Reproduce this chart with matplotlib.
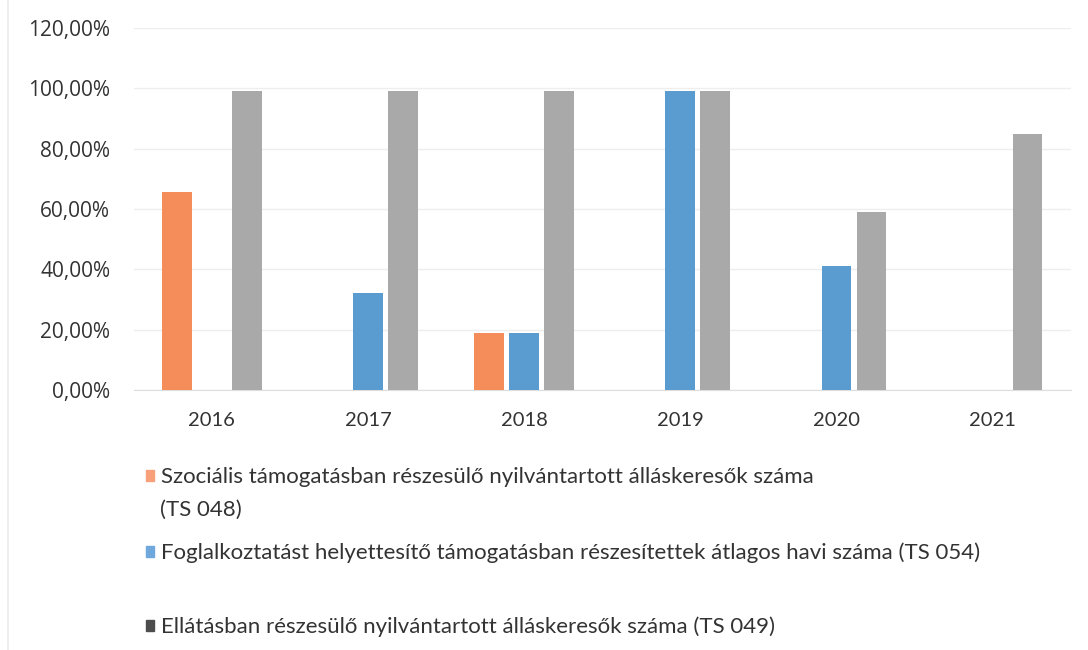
import numpy as np
import matplotlib
matplotlib.use("Agg")
import matplotlib.pyplot as plt
from matplotlib.patches import Patch
from matplotlib.lines import Line2D
from matplotlib.ticker import FuncFormatter

# Data (shares, 1.0 = 100%)
years = ["2016", "2017", "2018", "2019", "2020", "2021"]
ts048 = [0.655, 0.0, 0.19, 0.0, 0.0, 0.0]
ts054 = [0.0, 0.32, 0.19, 0.99, 0.41, 0.0]
ts049 = [0.99, 0.99, 0.99, 0.99, 0.59, 0.85]

labels = [
    "Szociális támogatásban részesülő nyilvántartott álláskeresők száma",
    "Foglalkoztatást helyettesítő támogatásban részesítettek átlagos havi száma (TS 054)",
    "Ellátásban részesülő nyilvántartott álláskeresők száma (TS 049)",
]

c_orange = "#F58D5A"
c_blue = "#5A9BD0"
c_gray = "#A9A9A9"
txt = "#333333"

fig = plt.figure(figsize=(10.88, 6.5), dpi=100)
ax = fig.add_axes([0.123, 0.4, 0.861, 0.557])

x = np.arange(len(years))
w = 0.19
off = 0.224
ax.bar(x - off, ts048, w, color=c_orange, zorder=3)
ax.bar(x, ts054, w, color=c_blue, zorder=3)
ax.bar(x + off, ts049, w, color=c_gray, zorder=3)

ax.set_xlim(-0.5, len(years) - 0.5)
ax.set_ylim(0, 1.2)
ax.set_yticks(np.arange(0, 1.21, 0.2))
ax.yaxis.set_major_formatter(FuncFormatter(lambda v, p: f"{v*100:.2f}%".replace(".", ",")))
ax.set_xticks(x)
ax.set_xticklabels(years, fontfamily="Lato", fontsize=14.5, color=txt)
for t in ax.get_yticklabels():
    t.set_fontfamily("Open Sans")
    t.set_fontsize(15)
    t.set_color(txt)
ax.tick_params(axis="both", length=0)
ax.tick_params(axis="y", pad=17)
ax.tick_params(axis="x", pad=16)

ax.grid(axis="y", color="#eeeeee", linewidth=1, zorder=0)
for s in ["top", "right", "left"]:
    ax.spines[s].set_visible(False)
ax.spines["bottom"].set_color("#dddddd")

# legend, one entry per row as in the original layout
handles = [Patch(color="#F7A07A"), Patch(color="#6FA8DC"), Patch(color="#4d4d4d")]
rows = [1 - 477 / 650, 1 - 553 / 650, 1 - 627 / 650]
for h, lab, yy in zip(handles, labels, rows):
    lg = fig.legend([h], [lab], loc="center left", bbox_to_anchor=(146 / 1088, yy),
                    frameon=False, borderpad=0, borderaxespad=0,
                    handlelength=0.38, handleheight=0.38, handletextpad=0.3,
                    prop={"family": "Lato", "size": 16})
    for t in lg.get_texts():
        t.set_color(txt)
fig.text(160 / 1088, 1 - 510 / 650, "(TS 048)", ha="left", va="center",
         fontfamily="Lato", fontsize=16, color=txt)

# faint frame line at the left edge
fig.add_artist(Line2D([8 / 1088, 8 / 1088], [0, 1], color="#eeeeee", linewidth=1.5))

fig.savefig("out.png", dpi=100)
